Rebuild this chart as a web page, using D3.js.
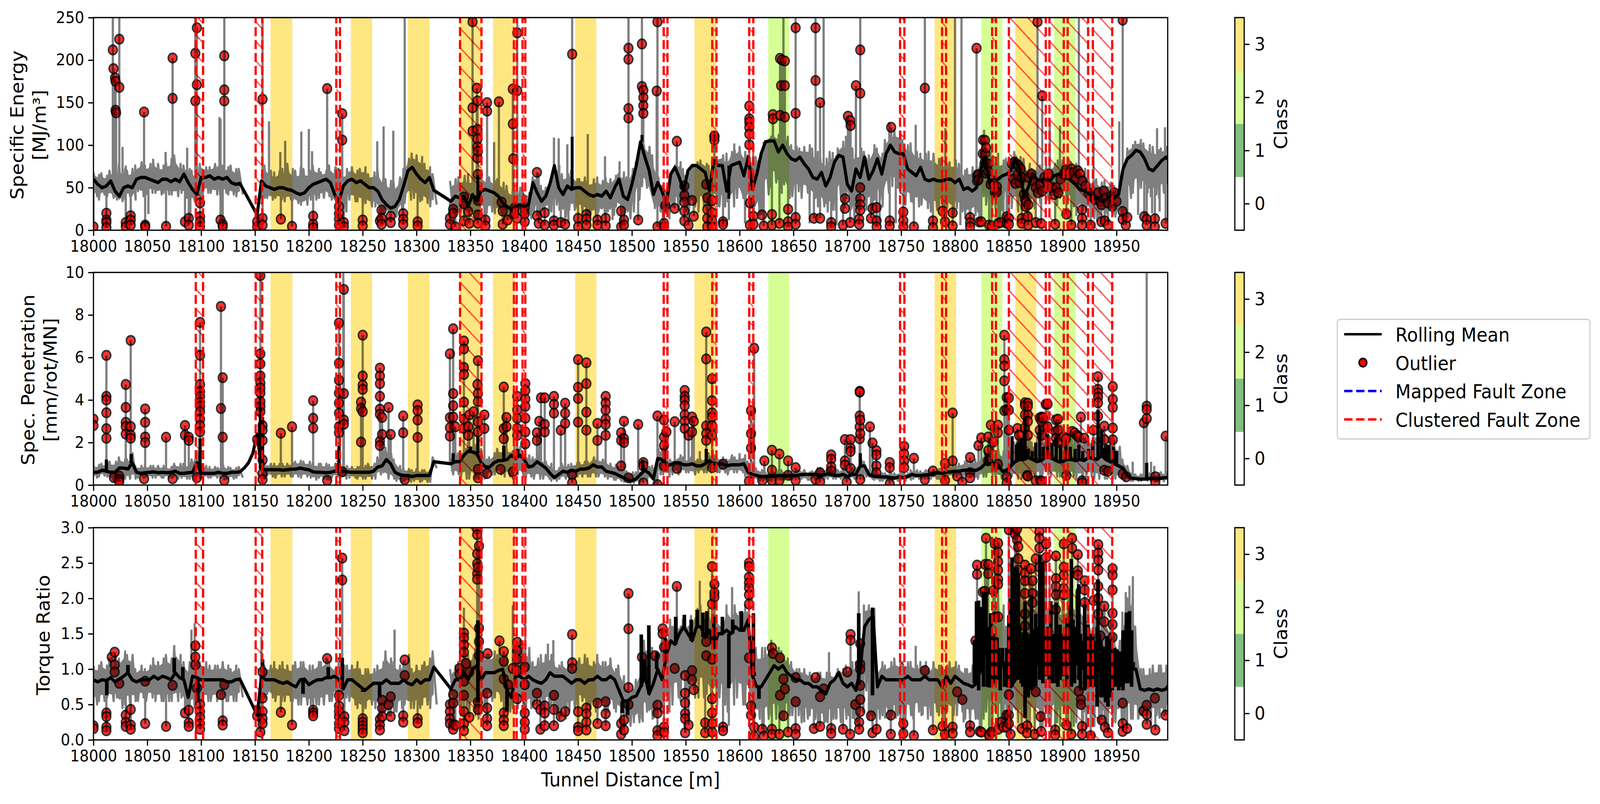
<!DOCTYPE html>
<html><head><meta charset="utf-8">
<script src="https://cdn.jsdelivr.net/npm/d3@7"></script>
<style>html,body{margin:0;padding:0;background:#fff;overflow:hidden}svg{display:block}text{font-family:"DejaVu Sans";fill:#000}</style>
</head><body><svg id="c" xmlns="http://www.w3.org/2000/svg"></svg>
<script>
// readings every 4 m starting at 18000
const energyHi=[68,65,67,64,70,66,78,72,70,72,
76,80,76,78,83,78,76,80,84,88,
78,76,72,70,75,78,74,74,78,74,
76,74,76,72,72,null,null,null,null,66,
76,70,68,70,72,78,72,70,74,72,
70,76,72,68,70,76,74,72,62,72,
74,70,72,74,66,68,72,64,60,58,
56,62,72,84,90,88,86,78,74,66,
null,null,null,58,60,62,64,66,62,60,
66,60,62,58,60,56,52,48,46,50,
48,44,62,66,52,50,62,72,76,66,
66,70,60,60,62,58,60,62,58,62,
60,64,66,68,62,72,80,96,100,98,
88,62,52,54,62,76,80,72,64,70,
80,82,78,76,84,86,88,90,92,94,
98,92,88,90,86,92,104,110,112,112,
114,110,100,98,96,98,100,96,92,84,
84,92,86,96,104,110,96,90,96,92,
88,100,96,90,106,112,118,116,106,100,
102,92,90,90,92,90,84,84,78,80,
82,78,70,72,74,70,92,100,92,86,
80,82,84,80,92,86,84,78,72,74,
76,76,76,78,82,82,84,80,78,72,
72,64,58,60,56,58,56,52,50,70,
96,100,104,106,102,100,98,94,96,98,100];
const energyLo=[40,36,42,40,38,36,34,36,40,36,
46,40,42,44,44,42,44,42,42,40,
44,38,30,34,30,40,44,44,42,42,
44,42,42,40,42,null,null,null,null,38,
38,36,38,36,34,36,36,32,30,30,
36,36,38,38,40,36,32,28,22,36,
34,34,30,32,28,28,24,20,22,20,
16,24,32,36,38,34,36,32,28,30,
null,null,null,22,22,22,24,20,14,14,
22,20,22,20,20,14,14,16,20,18,
14,14,22,22,24,24,22,30,24,16,
24,24,26,22,20,18,16,22,18,22,
18,28,20,28,14,22,36,52,50,42,
26,22,10,14,28,24,34,22,14,28,
22,28,24,18,28,28,28,34,28,38,
38,24,26,10,18,26,42,50,56,44,
54,38,40,46,38,44,42,38,28,28,
22,24,24,40,38,46,14,26,42,24,
30,36,36,28,44,52,50,44,30,34,
32,28,30,26,22,24,26,30,26,18,
26,22,14,14,18,22,40,30,30,26,
24,36,38,26,22,24,34,28,26,32,
40,36,38,30,38,40,42,28,18,24,
24,22,14,16,18,20,18,16,16,24,
38,44,48,50,44,40,42,38,44,42,44];
const energyMean=[60,54,50,52,58,46,40,50,52,50,
60,62,62,60,58,56,60,60,57,60,
57,66,56,48,42,62,62,64,60,62,
60,62,56,54,55,null,null,null,18,58,
52,50,48,50,50,48,47,44,42,44,
50,54,56,58,60,56,42,34,52,58,
60,56,58,54,50,50,46,36,30,26,
28,36,52,70,74,66,60,56,62,47,
null,null,null,34,40,38,40,28,42,34,
46,48,46,44,40,32,28,24,28,30,
28,30,56,44,34,40,55,76,50,42,
52,48,50,50,46,42,40,42,40,46,
38,50,60,40,36,54,76,104,86,70,
42,56,46,30,66,74,62,46,70,76,
76,72,68,46,82,76,76,46,76,78,
80,64,86,48,66,90,104,105,105,92,
100,90,84,82,86,78,72,62,60,68,
52,62,80,88,86,54,46,72,62,86,
60,70,84,66,90,100,92,90,90,72,
68,64,74,60,58,60,58,58,60,60,
56,60,48,50,46,50,72,86,56,62,
60,64,66,70,84,72,40,50,66,60,
58,62,58,64,66,66,62,58,54,48,
46,44,38,38,34,36,40,38,42,72,
84,88,94,92,84,72,70,76,82,86,80];
// outliers: [distance, value, value, ...]
const energyOutliers=[[18000,4],[18012,20,12,9,3],[18018,212],[18018.6,190],[18020,179],[18020.5,175,141],[18021,138],[18024,224.6,168],[18030,9,4],[18034.6,17,12,6],[18047,139],[18048,6,4],[18067.4,4.5],[18073.5,202.5,155],[18085,10],[18088.5,14,6],[18094.6,208,152],[18096,238,171],[18099,32,16,10,4],[18118,12],[18120,7,4],[18121.5,205,165,152],[18152,10,4],[18157,154,14,6],[18174,13],[18184.4,4.5],[18204,16.5,7,3],[18217,166.5],[18228,27.7,19.5,13,6],[18231,137,106],[18232.5,9,4],[18250,12,5],[18266,11],[18267.5,23.6,14,7],[18276,16.4,9],[18287.6,19.5,13,7],[18301,10,5],[18331,14,7],[18334,24.6,20],[18336,4],[18344,39,31,11],[18348,22],[18349,8],[18352,245,144,116.5],[18356,167],[18356.6,152,118.5,107,98,85],[18357,93,65.6,35,18,8],[18364,12,5],[18365.5,150,140],[18376.5,151],[18379,33],[18380,22.5,7],[18384.5,12],[18389.4,166,125],[18389.8,84],[18391,26,19.5],[18393.5,232,164,14],[18400.5,26.6,19.5,10],[18411.8,68],[18412,17],[18413.5,8],
[18419,20.5,6],[18427.6,11,6],[18434,9],[18438,7],[18444.5,207],[18450,14,4],[18457.7,18.5,13,6],[18468,12,6],[18475.6,14,5],[18490,22.5,4],[18492.6,12,6],[18496.8,214,201,143,132],[18505.8,12],[18509.3,219,169],[18510.6,164.5,156,146.6,137.4],[18523,163.7],[18523.7,245,4],[18529.8,8,4],[18531,29],[18539.7,25.6],[18541.7,104.6],[18548.7,52,41,33,22.5,11],[18552.6,6],[18555.8,35],[18557.4,16.4],[18569,54],[18570,38,24.6,14,4],[18574.4,35,20.5,12,4],[18576.6,110.8,110,106],[18584.6,10,7],[18609,146,131,127,121,113,100.5],[18609.6,32,6],[18612.8,16.4,7],[18620.8,18],[18622.4,5],[18630,18.5,6],[18630.8,136],[18631,131],[18637,8],[18637.5,202,135],[18638.5,170],[18639.4,200],[18642,199,170,133],[18645,24.6,10,4],[18652,238,137.4,15,7],[18669,14],[18670.5,238,176],[18674.7,150,14],[18685,9,4],[18696,6],[18697.8,37,25.6],[18700.6,134],[18702.6,129,9],[18703,123],[18708,170],[18711,13,7],[18712,212,161,50,37,30,23.6],[18722,14],[18723.4,25.6],[18727.2,26.7,11,4],[18739.4,11,5],[18740.7,121],[18752,21.5,11,4],[18761.8,4],[18772,167],[18779.5,11,3],[18788.5,22.5],[18790.7,10],[18797.8,20.5,5],[18814,15,9,4],[18820,214],[18820.5,64,58],[18821.8,65.6,59.5],[18822.6,9.6],[18824.4,10],[18825.8,90],[18826,106],[18827.6,79],[18827.9,105.6,90],[18828.8,97],[18829,67],[18830.8,78,69],[18831.7,6],[18833,54],[18834,5],[18835.6,55],[18837,44.6],[18838.8,51,45],[18840,8],[18842,9],[18848,15.8,8],[18850,14,7],
[18853,78],[18854,60],[18855,80],[18856,55],[18857,78],[18858,66],[18859,76],[18860,56],[18861,72],[18862,62,13.8,8],[18864,42],[18865,36],[18865.5,28],[18866,33],[18867.5,16],[18868,62,30,6],[18871,66],[18873,58],[18875,50,9],[18876.6,245],[18877,44],[18879,54],[18880,7.8],[18881,158,46],[18883,62],[18885,58],[18887,66],[18890,50],[18892,42],[18893,7],[18894,50],[18896,44],[18898,60],[18901,66],[18903,71],[18903.4,19],[18905,65],[18908,72,6],[18910,68],[18912,60],[18914,70],[18916,66],[18918,58,24,14,6],[18921,52],[18924,44],[18926,6],[18927,40],[18930,36],[18933,44],[18935,34],[18936,30,10],[18938,46],[18939,11],[18940,38],[18942,32,6],[18945,40],[18946,28],[18948,44],[18950,34],[18955.7,247,22,12.8],[18958.6,6],[18960,15],[18975.7,16],[18978,12.8,6],[18985.6,13.5,4],[18995.6,8]];
// raw spikes without a marker: [distance, value]
const energySpikes=[[18018,255],[18024,255],[18027,98],[18030,76],[18067,92],[18087,97],[18094.6,255],[18117,133],[18118,131],[18121.5,255],[18157,255],[18163,128],[18173.5,92],[18178,105],[18193,116],[18200,119],[18203,93],[18263.5,104.6],[18269.4,122],[18278.4,117],[18289,255],[18352,255],[18372,103.6],[18393.5,255],[18427.6,109],[18432,108],[18440,101],[18444.5,255],[18459,113],[18475,87],[18488.5,81],[18496.8,255],[18509.3,255],[18523.7,255],[18595,102],[18640.7,255],[18652,255],[18670.5,255],[18678,255],[18686.5,92],[18712,255],[18739,127],[18763.5,124],[18772,255],[18791,120],[18800,255],[18806,255],[18827,118],[18840,91],[18876.6,255],[18888,127],[18897.5,123],[18915,255],[18928.6,112],[18952.5,128],[18955.7,255],[18987.6,120],[18995,121],[18051,19],[18090,12],[18363,10],[18441,8],[18482,12],[18590,12],[18605,8],[18665,8],[18690,6],[18730,10],[18745,8],[18805,6],[18845,8],[18880,10],[18932,10],[18956,6],[18970,18],[18983,20],[18990,22]];
const energyMeanSpikes=[[18084,67],[18444.5,110],[18357,65],[18590,37],[18509.3,112]];

const penHi=[.95,.95,1,1.05,1.1,1.1,1.3,1.2,1.2,1.5,
.9,.9,.95,.9,.9,.9,.9,.85,.85,1,
1,1,1,1.2,1.6,1.2,.9,.85,.85,.8,
1,.85,.8,.8,.85,null,null,null,null,1,
1,1,1,1,1,1,1.05,1.1,1.15,1.1,
1.1,1.05,1,1,1,.95,1,1.2,.85,.9,
.85,.85,.85,.9,1,1,1.3,1.6,1.75,1.5,
1.2,.9,.8,.75,.7,.75,.7,.7,.7,1.3,
null,null,null,1.3,1.5,1.5,1.7,2,1.9,1.9,
1.7,1.2,1.3,1.5,1.7,1.7,1.7,1.6,1.8,1.8,
1.5,1.4,1.3,1.4,1.2,1.1,1,.8,.8,1,
.95,1,1.05,1.05,1.1,1.1,1.3,1.3,1.2,1.2,
1,.95,.85,.75,.65,.6,.6,.7,.9,.85,
.9,1.7,1.7,1.2,1.2,1.2,1.4,1.3,1.2,1.3,
1.2,1.2,1.3,1.5,1.4,1.3,1.3,1.2,1.4,1.3,
1.3,1.4,1.1,.9,.8,.7,.6,.6,.6,.7,
.7,.6,.6,.7,.7,.7,.6,.65,.8,.8,
.75,.8,.75,.7,.8,.75,.8,.8,1.2,1.1,
.7,.65,.6,.55,.55,.55,.55,.6,.55,.55,
.7,.7,.65,.7,.7,.7,.75,.8,.85,.9,
.95,1,1.1,1.1,1.1,1.2,1.3,1.6,1.6,1.6,
1.7,1.6,1.6,1.8,2,2.2,2.3,2.2,2,2.2,
2.2,2.4,2.3,2.2,2.2,2.1,2.2,2.2,2.2,2.2,
2.2,2.3,2.2,2.2,2.3,2.2,2.2,2.1,1.8,1.2,
.9,.65,.5,.5,.5,.55,.55,.55,.6,.6,.65];
const penLo=[.35,.4,.45,.4,.2,.2,.2,.3,.3,.3,
.35,.35,.4,.35,.35,.35,.35,.35,.35,.3,
.35,.3,.3,.3,.3,.3,.35,.35,.35,.35,
.3,.3,.3,.35,.35,null,null,null,null,.3,
.45,.4,.35,.4,.4,.4,.4,.4,.35,.4,
.35,.25,.35,.3,.25,.35,.4,.3,.3,.35,
.35,.3,.3,.3,.3,.3,.5,.6,.3,.3,
.2,.15,.2,.15,.2,.15,.2,.15,.15,.8,
null,null,null,.5,.5,.4,.3,.3,.3,.3,
.3,.35,.5,.5,.5,.4,.4,.3,.5,.4,
.3,.4,.3,.3,.3,.3,.2,.2,.3,.3,
.3,.3,.4,.4,.4,.4,.4,.4,.4,.3,
.25,.25,.2,.15,.1,.1,.1,.2,.2,.3,
.1,.5,.5,.4,.5,.5,.6,.6,.6,.5,
.6,.6,.6,.6,.6,.6,.6,.5,.6,.6,
.6,.4,.35,.3,.2,.2,.2,.2,.25,.25,
.25,.25,.3,.3,.3,.25,.25,.25,.3,.25,
.3,.3,.3,.3,.25,.3,.3,.3,.3,.4,
.3,.25,.2,.2,.2,.2,.2,.25,.2,.25,
.3,.3,.3,.3,.3,.3,.3,.35,.35,.4,
.4,.4,.45,.45,.4,.3,.4,.4,.4,.4,
.3,.4,.4,.4,.3,.3,.3,.3,.4,.4,
.5,.5,.4,.4,.4,.3,.4,.4,.3,.3,
.4,.4,.3,.3,.3,.3,.3,.3,.3,.2,
.2,.2,.2,.2,.2,.18,.18,.18,.18,.2,.2];
const penMean=[.6,.6,.7,.65,.6,.6,.8,.8,.75,1.05,
.6,.55,.58,.6,.62,.58,.6,.58,.6,.65,
.55,.55,.58,.6,1.05,.55,.55,.55,.55,.6,
.55,.55,.6,.6,.62,.8,1.05,1.5,2.4,.75,
.72,.72,.72,.72,.7,.72,.75,.75,.8,.75,
.72,.62,.6,.6,.58,.6,.65,.7,.65,.62,
.6,.6,.6,.6,.6,.65,.85,.9,1.2,1,
.6,.5,.45,.45,.4,.45,.45,.45,.45,1.1,
null,null,null,1,1.1,1.1,1.4,1.6,1.55,1.5,
1.05,.85,.85,1.05,1.15,1.15,1.2,1.4,1.25,1.4,
1.2,.85,.9,1.1,.95,.8,.55,.35,.5,.65,
.6,.7,.65,.75,.75,.8,.95,.85,.85,.65,
.6,.55,.45,.35,.25,.2,.3,.5,.7,.55,
.3,1.25,1.2,.95,.95,1.05,1.05,.95,.95,1,
.9,.9,1,1.15,1,1,1,.9,.95,.95,
.95,1,.6,.5,.45,.4,.4,.42,.42,.45,
.45,.42,.45,.45,.48,.5,.5,.5,.5,.45,
.5,.55,.45,.45,.5,.4,.5,.5,.9,.9,
.5,.42,.4,.38,.38,.35,.33,.38,.35,.4,
.5,.45,.45,.48,.48,.55,.58,.55,.6,.62,
.65,.65,.7,.7,.7,.7,.8,1,1,1,
.95,.65,.7,.9,1.1,1.2,1.2,1.3,1.2,1.1,
1.15,1.3,1.3,1.2,1.1,1.1,1.2,1.2,1.15,1.2,
1.15,1.3,1.25,1.2,1.4,1.2,1.1,1,.9,.8,
.45,.32,.3,.28,.28,.3,.32,.3,.33,.35,.38];
const penOutliers=[[18000,3.1,2.8],[18012,6.1,4.17,4,3.4,2.65,2.2],[18019,.35],[18024,.42,.26,.15],[18030,4.73,3.65,2.95,2.75,2.4],[18034.6,6.8,2.75,2.35,2.2],[18047,.3],[18048,3.58,2.95,2.26,2],[18067.4,2.25],[18073.5,.3],[18085,2.8,2.35],[18088.5,2.25,2.1],[18096,.35],[18099,7.65,6.1,4.73,4.4,4.17,3.9,3.7,3.45,3.1,2.8,2.5],[18118.4,8.4,3.6],[18120,5.05,2.25],[18121.5,.22],[18152,2.14],[18155,9.85,6.17,5.7,5.13,4.8,4.57,4.33,3.93,3.7,3.45],[18157,2.8,2.58,2.1,1.18,.54,.26],[18174,2.44],[18184.4,2.74],[18204,3.97,3.14,2.68],[18217,.22],[18228,7.62,5.73,4.93,4.33,3.85,3.38,2.74,2.46],[18231,.62],[18232.5,9.2,4.3,3.06,2.86],[18248.5,3.9,3.6,2.02],[18250,7.05,5.13,4.7,4.5,3.45],[18266,5.5,5.13,4.77,4.17,3.57,3.33,2.06,1.86],[18268,3.18,2.38],[18274,3.65],[18276,2.38],[18287.6,3.25,2.46],[18289,.26],[18301,3.77,3.5,3.06,2.24],[18331,6.17,3.17,2.7,2.3],[18334,7.35,4.3,3.73,3.2],[18336,2.74],[18344,6.77,6.4,5.53,5.2,3.9,3.1,2.66],[18348,2.74,2.34],[18349,3.3],[18353,3.45],[18356.6,4.73],[18357,5.85,4.3,3.93,2.98,2.5,.74,.34],[18363,3.3,2.66],[18365.5,.54],[18378,.74],[18381,4.61,2.66,2.18],[18383.5,3.18,2.74],[18389.4,.62],[18393.5,4.17,3.53,3.14,2.66,2.34],[18401,4.77,4.45,4.05,3.7,3.14,2.5,1.94],[18411.8,2.46,2.1],[18414,3],[18415.6,4.1],
[18419,4.1,2.85,2.5],[18427.6,4.17,3.8,3.38],[18434,2.58],[18438,3.85,3.38,2.9],[18444.5,.5,.1],[18450,5.9,4.6,4.07,2.96],[18457.7,5.75,4.77,3.43,2.58],[18468,2.9,2.1],[18475.6,4.17,3.85,3.53,3.1,2.85,2.34],[18490,2.46,2.1,.9],[18492.6,3,2.18,2],[18496.8,.34],[18505.8,2.85],[18510.6,1.06,.9,.1],[18523.7,3.25,.02],[18529.8,3.06,2.26,1.86,.9],[18532,2.5],[18539.7,2.98],[18541.7,.78],[18549,4.45,4.17,4,3.73,3.3,3,2.66],[18552.6,2.34],[18555.8,3.2,2.5],[18557.4,3],[18569,7.2,5.93,2.78,2.42,2.1],[18574.4,5,3.97,3.4,3.2,2.78,2.34,.82],[18584.6,.98],[18608.7,.18],[18610.6,3.5,2.42,1.74],[18613.5,6.43],[18621,.22],[18623,1.14],[18630,1.64,.7,.22],[18636.9,1.46,.22],[18645,1.14,.46],[18652,.82,.22],[18670.5,.26],[18674.7,.58,.14],[18685,1.42,1.22,.86,.66],[18697.8,2.14,1.14,.94],[18699.4,.14],[18703,2.14,1.74,1.58,.78],[18711.5,4.41,4.37,3.25,2.74,2.18],[18712,3.06,2.42,.26],[18721,2.74],[18723.4,1.98],[18727,1.62,1.42,.9,.58],[18739.4,1.06,.82,.06],[18752.8,1.82,1.46,1.14,.82],[18761.8,1.26],[18772,.26],[18779.5,.66],[18790.7,1.02,.22],[18797.8,3.39,1.14],[18802,.42],[18806.8,.14],[18814,1.3,.58,.34],[18821.8,1.86],[18824.4,2.22],[18830.8,2.26,1.62,1.14],[18833.3,2.82],[18835.6,2.02],[18839.8,2.82,2.46,.98],[18845.8,7.05,5.9,5.6,4.9,3.5],[18848,4.12,3.55,.39,.1],[18850,4.1,3.53,2.58],
[18858,2.66],[18859.5,2.34],[18861,1.86],[18865,3.87,3.74,3.3,2.7],[18867,.45],[18867.6,3.85,3.7,3.3,3,2.34,.42],[18875,.2],[18878.7,3.16,2.58],[18879.3,.2],[18880.4,3.2,3,2.34,.18],[18881.6,3.16],[18884.3,3.8],[18886,3.81,2.74],[18893.7,3.07,2.52,2.2],[18895.5,3.1,2.58,2],[18901,2.26],[18903,2.18],[18903.4,.45],[18908.7,2.52],[18911,2.46],[18913.4,2.33],[18915,2.26],[18916.9,3.2],[18918,.2,.1],[18919.8,2.2],[18928.6,2.58],[18932.8,5.1,4.5,4.33,4.13,3.87,3.23],[18938.6,2.77,2.13,.7],[18942,.65],[18946.5,4.63,4.03,3.65,2.68,2.13],[18955.7,.52],[18959,.39],[18975.4,2.93],[18978,3.71,3.55,3.13],[18986,.39,.13],[18995.6,2.3]];
const penSpikes=[[18232,10.5],[18978,10.5],[18155,10.5],[18600,1.5],[18563,1.6],[18575,1.7],[18965,1.1],[18985,.9],[18982,1.1]];
const penMeanSpikes=[[18035,1.46],[18012,1.2],[18099,2.2],[18155,4.1],[18157,3.2],[18228,1.85],[18334,1.5],[18350,1.8],[18357,2.25],[18381,1.85],[18394,1.7],[18530,1.7],[18510,1.2],[18569,1.7],[18712,1.5],[18978,1.05],[18829.4,1.5],[18853,2.3],[18857,1.9],[18859,2],[18862,2.2],[18865,3.2],[18868,1.7],[18871.6,1.6],[18875,2],[18878.7,2.8],[18882,1.8],[18886,2.4],[18890,2],[18894,2.3],[18898,1.9],[18903,2.1],[18907,1.8],[18911.6,1.7],[18915,1.9],[18918.6,1.6],[18924,1.7],[18928,2.1],[18932.8,3.55],[18936,2.6],[18937.5,1.75],[18940,1.9],[18943,1.9],[18947,1.8],[18950,1.6]];

const torqueHi=[1.05,1.05,1.1,1.05,1.15,1.1,1.15,1.25,1.2,1.2,
1,1.05,1,1.05,1.15,1.1,1.15,1.2,1.15,1.3,
1.2,1.1,1.1,1.1,1.1,1.1,1.1,1.05,1.05,1.05,
1.1,1.05,1,1.05,1,null,null,null,null,1.05,
1.05,1.05,1.1,1.05,1.1,1.05,1.05,1.1,1.1,1.1,
1.05,1.05,1.1,1.1,1.15,1.1,1,1.15,1.05,1.05,
1.05,1.1,1,1,1,1,1.05,1.1,1.25,1.15,
1.1,1.05,1.1,1.2,1,1.05,1.05,1.1,1.15,1.25,
null,null,null,1,1.05,1.1,1.4,1.2,1.2,1.6,
1.4,1.2,1.2,1.25,1.2,1.2,1.2,1.1,1.3,1.4,
1.3,1.3,1.1,1.15,1.2,1.2,1.2,1.1,1.05,1.1,
1.05,1.05,1.1,1.15,1.2,1.15,1.1,1.2,1.1,1.1,
1.15,1,1.05,.9,.7,.7,.85,1,1.4,1.5,
1.3,1.2,1.5,1.4,1.7,1.7,1.6,1.7,1.6,1.75,
1.85,1.9,1.8,1.85,1.6,1.7,1.6,1.9,1.8,1.9,
1.8,1.9,1.8,1.3,1.3,1.3,1.3,1.4,1.3,1.3,
1.25,1.15,1.1,1,1,1,.95,.9,.95,.95,
.95,.95,.9,1,1,1.05,1.1,1.1,1.1,1.9,
1.9,1.85,1,1.1,1.05,1.1,1.15,1.1,1.1,1.1,
1.1,1.05,1.1,1.1,1,1.1,1.05,1.05,1.05,1.1,
1.1,1.05,1,1,1.05,1.05,1.1,1.3,1.5,1.8,
2,1.9,1.6,1.5,1.9,2.2,2.3,2.3,2.2,2.1,
2,2.1,2.2,2.2,2.1,2,2.1,2.2,2.1,2.1,
2,1.9,1.7,1.7,1.8,1.9,1.7,1.5,1.4,1.8,
2,2.3,1.6,1,1,1,1.05,1.05,1.05,1.05,1.15];
const torqueLo=[.5,.55,.55,.6,.55,.6,.45,.5,.5,.55,
.55,.6,.55,.6,.55,.55,.55,.55,.55,.55,
.6,.5,.5,.45,.5,.55,.55,.55,.55,.6,
.55,.55,.55,.55,.6,null,null,null,null,.6,
.65,.6,.55,.55,.55,.55,.55,.5,.5,.5,
.5,.5,.5,.5,.55,.55,.6,.6,.6,.55,
.5,.45,.4,.45,.5,.45,.45,.4,.35,.4,
.4,.45,.5,.45,.45,.45,.5,.5,.45,.5,
null,null,null,.6,.5,.35,.45,.4,.35,.3,
.45,.55,.55,.6,.55,.4,.4,.45,.45,.5,
.4,.45,.5,.5,.5,.5,.5,.4,.3,.3,
.4,.45,.5,.55,.5,.45,.4,.5,.4,.4,
.45,.4,.4,.35,.2,.25,.25,.3,.4,.3,
.35,.4,.4,.4,.5,.6,.55,.7,.5,.6,
.6,.6,.65,.45,.5,.6,.5,.4,.5,.6,
.5,.5,.4,.3,.3,.35,.3,.35,.3,.3,
.3,.35,.35,.35,.25,.3,.35,.3,.25,.25,
.25,.3,.3,.25,.3,.35,.3,.25,.4,.7,
.4,.35,.3,.35,.3,.35,.35,.3,.3,.35,
.3,.4,.35,.3,.35,.4,.35,.35,.4,.35,
.35,.4,.3,.3,.3,.3,.3,.4,.3,.4,
.3,.3,.35,.4,.25,.2,.2,.25,.25,.2,
.2,.25,.2,.25,.2,.25,.2,.2,.25,.2,
.15,.2,.2,.25,.2,.2,.25,.25,.25,.3,
.3,.3,.3,.35,.35,.35,.35,.35,.35,.4,.4];
const torqueMean=[.85,.82,.85,.84,.88,.82,.86,.9,.95,.85,
.82,.85,.85,.85,.9,.86,.9,.88,.85,.95,
.88,.85,.6,.9,.88,.85,.85,.85,.85,.85,
.85,.82,.82,.85,.86,null,null,null,.35,.9,
.85,.85,.85,.82,.8,.82,.78,.75,.85,.86,
.78,.82,.85,.85,.88,.88,.9,.85,.72,.85,
.85,.8,.75,.7,.75,.8,.8,.8,.85,.8,
.8,.8,.85,.8,.78,.85,.8,.85,.85,1.03,
null,null,null,.72,.85,.85,.95,.85,1,1.05,
.85,.95,.95,.95,.98,1,.7,.6,.9,.9,
.85,.9,.85,.82,.8,.85,.95,.9,.9,.9,
.85,.8,.85,.85,.8,.85,.85,.9,.85,.85,
.9,.85,.7,.55,.55,.6,.62,.75,.9,.65,
.8,1,.85,1.2,1.4,1.35,1.5,1.6,1.5,1.4,
1.6,1.6,1.45,1.55,1.3,1.5,1.5,1.55,1.5,1.6,
1.55,1.55,1.7,.9,.75,.75,.85,.95,1.05,1,
1.05,.95,.9,.85,.85,.8,.8,.75,.75,.7,
.65,.8,.85,.95,.8,.75,.8,.7,1,1.6,
1.7,1.75,.75,.9,.85,.85,.85,.85,.85,.9,
.85,.85,.85,.9,.85,.85,.85,.75,.9,.8,
.9,.85,.8,.78,.75,.8,1,1.3,1.1,1.2,
1,1.15,.8,.75,.85,1,1.2,1.1,1,1.1,
1,1.05,1.1,1.15,1,1.1,1.05,1.1,1.1,1.05,
1,1.05,.9,1.1,.95,1,.9,1,.9,1,
1.1,1,1,.72,.7,.72,.7,.72,.7,.72,.82];
const torqueOutliers=[[18000,.2,.16],[18012,.38,.33,.18,.13],[18017,1.17],[18019.7,1.24,1.06,.96],[18024,.8],[18030,.35,.25,.19],[18034.6,.43,.21,.15],[18048,.83,.23],[18067.4,.19],[18073.5,.77],[18085,.38],[18088.5,.42,.24,.19],[18094.6,1.33,1.17,1.06],[18096,.73],[18099,.5,.4,.32,.23,.15],[18118.4,.64],[18120,.27,.21],[18121.5,.78],[18152,.34],[18155,.11],[18157,.96,.59,.4,.3,.23],[18174,.39],[18184.4,.21],[18204,.42,.38,.34],[18217,1.15],[18228,.63,.48,.4,.33,.23,.16],[18231,2.57,2.26],[18233,.33,.25,.13],[18250,.3,.25,.2,.15,.1],[18266,.29,.21,.14],[18268,.56,.45,.33],[18274,.5],[18276,.61,.33],[18287.6,.34,.25],[18289,1.13,.91],[18301,.3,.24],[18331,.5,.4,.3,.23],[18334,.64,.52,.21,.15],[18336,.21],[18340,1.01,.93],[18344,1.51,1.44,1.34,1.24,.83,.63,.4,.23,.13],[18346,1.08],[18349,.96,.32],[18356.3,2.98,2.9,2.63,2.49,2.35,2.27],[18357,2.44,.53,.43],[18358,2.74,1.58,1.39,1.19],[18365.5,.66,.45,.3,.2],[18366,1.22],[18377,1.4],[18381,1.25,1.11,.86,.38,.28,.2],[18385,.78],[18389.4,1.01],[18393.5,1.38,1.26,1.14,.98,.58],[18400.5,1.03,.78,.38,.25,.15],[18411.8,.66,.5],[18415,.43,.15],
[18419,.48,.38,.2],[18427.6,.63,.43,.2],[18434,.33],[18438,.4],[18444.5,1.49,1.09,1.01],[18450,.4,.18,.13],[18457.7,.45,.37,.25,.14],[18468,.52,.23],[18475.6,.54,.37,.2],[18490,.23,.08],[18492.6,.28,.14],[18496.8,2.07,1.57,.74,.5],[18509.3,1.17],[18512.5,.96],[18521.5,1.19],[18523.7,.49,.38,.13,.06],[18528.5,1.57,1.5],[18529.8,1.31,.18,.11],[18539.7,1.01],[18541.7,2.17],[18549.4,.91,.66,.52,.37,.3,.1],[18552.6,.21],[18555.8,.98,.85],[18557.4,.71],[18568,.24,.1],[18569,1.39,1.19],[18574.4,2.45,1.92,1.14,.58,.38,.23,.11],[18576.6,2.2,2.08,2.02],[18584.6,.18,.13],[18608.7,2.5,2.45,2.3,2.22,2.15,2.05,1.92,1.16],[18610.6,.48,.35],[18613.5,.18,.05],[18621,.15],[18622.4,.05],[18630,1.3,.15,.08],[18631,1.22],[18636.9,.08],[18637.5,1.16,.63],[18640.7,.86,.34],[18642,.72],[18645,.11],[18652,.88,.54,.16,.08],[18669,.16],[18670.5,.88],[18674.7,.61,.19],[18678,.72],[18685,.16,.09],[18696,.15],[18700,.96],[18702.6,.08],[18703,1.49,1.41],[18707.4,.5],[18711,.25,.15],[18712,1.36,1.07,1,.77,.57,.4],[18722,.34],[18723.4,.1],[18727.2,.15],[18740.4,.35,.08],[18752,.23,.09],[18761.8,.06],[18772,.98],[18779.5,.14],[18788.5,.19],[18790.7,.08],[18797.8,.18,.09],[18802,.68],[18806.8,.57],[18814,.2,.11],[18819,1.4],[18820.5,2.47,2.34],[18823,.12],[18824.4,.11],[18825.8,2.09],[18827.6,2.1],[18828,2.48],[18828.8,2.85],[18830.8,2.48,2.35],[18831.7,.08,.06],[18834,.11],[18835.6,2.11],[18837,2.77],[18837.6,1.74],[18840,2.78,2.65,2.52,2.4,2.27,2.2,1.74,.15],[18843,.25],[18845,.18],[18848,.35,.18],[18850,2.97,.81,.64,.35,.23],[18851.6,.08],[18855.8,2.97,2.91],[18857.6,2.98,2.83],[18858.7,2.73,2.56,2.4],[18862,.16],[18865,2.47,2.36,2.25,2.07,1.78,1.61,1.46],[18867,.2,.1],[18870.5,2.42],[18872,2.25,2.07,1.94],[18874,.08],[18875,2.56,.68],[18878.4,2.95,2.85,2.71,2.44],[18879.6,.33],[18880,.12],[18884.6,2.77,2.58],[18893,.14,.07],[18893.7,2.6,2.28,2.17,2.05,1.84],[18901,2.77,2.44,2.33,2.14,2.05],[18903.4,.21],[18908,.08],[18908.7,2.85,2.71],[18914,2.62,2.39,2.33],[18915,.69],[18916.9,.57,.5],[18918,.19,.08],[18920.4,2.25,2.12,1.94],[18926,.06],[18928.6,1.97],[18933,2.76,2.64,2.54,2.4,2.17,2,1.78],[18935,1.47],[18936.3,.28],[18938.6,1.89,1.67],[18939.2,.18],[18942,.1],[18946.3,2.42,2.33,2.12,1.79,1.63,1.45],[18955.7,.52,.23,.12],[18959.8,.16],[18975,.41],[18978,.49,.36,.22],[18985.6,.59],[18986,.14],[18995.6,.35]];
const torqueSpikes=[[18091,1.56],[18094,1.65],[18075,1.34],[18156,1.46],[18279.6,1.56],[18344,1.87],[18389.4,1.9],[18401,2.03],[18422,1.36],[18427,1.41],[18563,2.25],[18593,2.16],[18683,1.24],[18710.6,2.1],[18763.5,1.33],[18958.6,2.09],[18962,2.18],[18690,.3],[18705,.3],[18720,.28],[18745,.3],[18770,.35],[18808,.25],[18510,.25],[18520,.3],[18590,.2],[18660,.25],[18680,.25],[18735,.3],[18970,.3],[18982,.2],[18990,.3]];
const torqueMeanSpikes=[[18012.4,.63],[18032,1.06],[18075,1.16],[18083,1.03],[18097,.53],[18157,1.14],[18194.6,.65],[18218,1.03],[18231,1.16],[18250,.68],[18265.7,.6],[18357,1.69,.53],[18384,.4,.63],[18491,.38],[18496,.35],[18508.7,1.49],[18512,1.14],[18515.7,1.62],[18523,1.24],[18531,1.44],[18540.7,1.74],[18548.7,1.77],[18552,1.5],[18555,1.7],[18560.6,1.84],[18566,1.8],[18569.6,1.82],[18576,1.74],[18584,1.74],[18590,.73],[18593.6,1.7],[18601.6,1.82],[18612.8,1.79],[18613.5,.96],[18618,.58],[18710.6,1.79,.78],[18723.4,1.87,.63],[18818,1.41],
[18820,1.96],[18822,1.97,.7],[18824.6,1.88],[18826.4,2.1,.75],[18828.8,2.09],[18830,1.5,.75],[18831.7,1.6,.74],[18833,1.79],[18834.5,1.4,.8],[18836,1.5],[18837.5,1.3,.8],[18839,1.45],[18840.5,1.3,.85],[18842,1.2,.7],[18844,1.3],[18846,1.1,.75],[18848,1.3,.75],[18850,1.76,.85],[18851.5,2],[18853,2.58,.9],[18854,1.9],[18855,2.44,.85],[18856.5,1.8],[18857.6,2.44],[18858.7,2.35],[18860,1.6,.85],[18861.5,1.5,.8],[18863,1.5,.75],[18865,1.96,.31],[18866.5,1.5,.7],[18868,1.45,.6],[18869.5,1.4],[18871,2.05,.7],[18872.5,1.5,.75],[18874,1.55],[18875,1.78,.76],[18876.5,1.6],[18878.7,2.62,.85],[18880,1.9],[18881.6,2.52,.8],[18883,1.5],[18884.5,1.5,.9],[18886,1.6],[18887.5,1.5,.85],[18889,1.96],[18890.5,1.5,.8],[18892,1.5],[18894,1.94,.8],[18895.5,1.5,.75],[18897.5,1.63,.85],[18899,1.4],[18900.5,1.5,.9],[18902,1.5],[18904,1.72,.75],[18905.5,1.6],[18907,1.9],[18908,2.56,.75],[18909.5,1.7],[18911,1.6,.8],[18912.5,1.6],[18914,2.14],[18915,2.2,.85],[18916.5,1.5,.7],[18918,1.4],[18920.4,1.92,.7],[18921.5,1.3],[18923.4,1.63,.75],[18925,1.5],[18926.5,1.3,.75],[18928,1.5],[18930,1.4,.75],[18932,1.6,.47],[18932.8,2.27],[18934,1.5],[18935.5,1.4,.6],[18937.5,1.32,.6],[18939.8,1.3,.53],[18941,1.47],[18942,1.3,.47],[18944,1.43,.6],[18946,1.3,.7],[18948,1.3,.75],[18950.4,1.28,.75],[18952,1.25,.7],[18954,1.25,.75],[18956,1.55,.7],[18958,1.4],[18959,1.8,.8],[18960.5,1.3],[18962,1.82,.8],[18964,1.55,.75],[18965.5,1.1]];

const classBands=[[18164.4,18184.7,3],[18239,18258.7,3],[18291.8,18312,3],[18340,18359.6,3],[18371,18391,3],[18447.3,18467,3],[18558,18578,3],[18626.5,18646,2],[18781,18801,3],[18824.3,18844,2],[18856,18875.5,3],[18892,18912,2]];
const faultZones=[[18095,18101.8],[18150.6,18156.7],[18225.5,18228.9],[18340.4,18360.3],[18390.4,18393],[18398.4,18401],[18529.5,18533],[18574.6,18578.5],[18608.9,18612.7],[18749,18753],[18788,18791.7],[18834.5,18838],[18850,18884.3],[18887.7,18901],[18904.6,18923.6],[18928,18946]];
const classColors=["#ffffff","#80c080","#d5ff95","#fee681"];
const classTicks=[0,1,2,3];
const xTicks=d3.range(18000,19000,50);
const legendLabels=["Rolling Mean","Outlier","Mapped Fault Zone","Clustered Fault Zone"];
const sampleShift=[0,1.2,-.7,.6,-1.1,.9,-.4,1.4,-.9,.3,-1.3,.7,-.2,1,-.6];

const W=4434,H=2057,L=259,R=3236,CBL=3422,CBR=3448,LW=3.3;
const panels=[
 {top:45,bot:589,max:250,ticks:d3.range(0,251,50),fmt:d3.format("d"),label:["Specific Energy","[MJ/m³]"],lx:[48,110],hi:energyHi,lo:energyLo,mean:energyMean,out:energyOutliers,sp:energySpikes,ms:energyMeanSpikes,msw:8},
 {top:697,bot:1241,max:10,ticks:d3.range(0,11,2),fmt:d3.format("d"),label:["Spec. Penetration","[mm/rot/MN]"],lx:[78,140],hi:penHi,lo:penLo,mean:penMean,out:penOutliers,sp:penSpikes,ms:penMeanSpikes,msw:9},
 {top:1350,bot:1893,max:3,ticks:d3.range(0,3.01,.5),fmt:d3.format(".1f"),label:["Torque Ratio"],lx:[120],hi:torqueHi,lo:torqueLo,mean:torqueMean,out:torqueOutliers,sp:torqueSpikes,ms:torqueMeanSpikes,msw:10}
];
const svg=d3.select("#c").attr("width",window.innerWidth).attr("height",window.innerHeight)
  .attr("viewBox",`0 0 ${W} ${H}`).attr("preserveAspectRatio","none");
const defs=svg.append("defs");
const pat=defs.append("pattern").attr("id","hatch").attr("patternUnits","userSpaceOnUse").attr("width",50).attr("height",50);
[[3,0,53,50],[-47,0,3,50],[-97,-50,53,100]].forEach(s=>pat.append("line").attr("x1",s[0]).attr("y1",s[1]).attr("x2",s[2]).attr("y2",s[3]).attr("stroke","#f00").attr("stroke-opacity",.65).attr("stroke-width",3.6));
const x=d3.scaleLinear().domain([18000,18997.5]).range([L,R]);
const station=i=>18000+4*i;

panels.forEach((p,k)=>{
 const y=d3.scaleLinear().domain([0,p.max]).range([p.bot,p.top]);
 defs.append("clipPath").attr("id","clip"+k).append("rect").attr("x",L).attr("y",p.top).attr("width",R-L).attr("height",p.bot-p.top);
 const g=svg.append("g");
 const plot=g.append("g").attr("clip-path",`url(#clip${k})`);
 plot.selectAll("rect.band").data(classBands).join("rect").attr("class","band")
  .attr("x",d=>x(d[0])).attr("width",d=>x(d[1])-x(d[0])).attr("y",p.top).attr("height",p.bot-p.top).attr("fill",d=>classColors[d[2]]);
 plot.selectAll("rect.zone").data(faultZones).join("rect").attr("class","zone")
  .attr("x",d=>x(d[0])).attr("width",d=>x(d[1])-x(d[0])).attr("y",p.top).attr("height",p.bot-p.top).attr("fill","url(#hatch)");
 const pts=p.out.flatMap(r=>r.slice(1).map(v=>[r[0],v]));
 plot.selectAll("circle").data(pts).join("circle").attr("cx",d=>x(d[0])).attr("cy",d=>y(d[1])).attr("r",12)
  .attr("fill","#f00").attr("stroke","#000").attr("stroke-width",4.2).attr("opacity",.8);
 const meanAt=v=>{let i=Math.round((v-18000)/4);i=Math.max(0,Math.min(p.mean.length-1,i));
  for(let d=0;d<20;d++){if(p.mean[i-d]!=null)return p.mean[i-d];if(p.mean[i+d]!=null)return p.mean[i+d];}return 0;};
 const idx=d3.range(p.hi.length);
 const raw=plot.append("g").attr("opacity",.5);
 const core=d3.area().defined(i=>p.hi[i]!=null&&p.mean[i]!=null).x(i=>x(station(i)))
   .y0(i=>y(p.mean[i]-(p.mean[i]-p.lo[i])*.72)).y1(i=>y(p.mean[i]+(p.hi[i]-p.mean[i])*.72));
 raw.append("path").attr("d",core(idx)).attr("fill","#000");
 const zig=idx.flatMap(i=>[{x:station(i)+sampleShift[i%15],v:p.hi[i]},{x:station(i)+2+sampleShift[(i+7)%15],v:p.lo[i]}]);
 raw.append("path").attr("d",d3.line().defined(d=>d.v!=null).x(d=>x(d.x)).y(d=>y(d.v))(zig))
  .attr("fill","none").attr("stroke","#000").attr("stroke-width",6).attr("stroke-linejoin","round");
 const stemD=(rows)=>rows.flatMap(r=>r.slice(1).map(v=>`M${x(r[0])},${y(meanAt(r[0]))}L${x(r[0])},${y(v)}`)).join("");
 raw.append("path").attr("d",stemD(p.out.concat(p.sp))).attr("fill","none").attr("stroke","#000").attr("stroke-width",6.2);
 const meanPts=idx.filter(i=>p.mean[i]!=null);
 plot.append("path").attr("d",d3.line().x(i=>x(station(i))).y(i=>y(p.mean[i]))(meanPts))
  .attr("fill","none").attr("stroke","#000").attr("stroke-width",8.5).attr("stroke-linejoin","round");
 plot.append("path").attr("d",stemD(p.ms)).attr("fill","none").attr("stroke","#000").attr("stroke-width",p.msw);
 const fz=faultZones.flat();
 plot.selectAll("line.fz").data(fz).join("line").attr("class","fz")
  .attr("x1",d=>x(d)).attr("x2",d=>x(d)).attr("y1",p.bot).attr("y2",p.top)
  .attr("stroke","#f00").attr("stroke-width",6.25).attr("stroke-dasharray","23.1 10");
 g.append("rect").attr("x",L).attr("y",p.top).attr("width",R-L).attr("height",p.bot-p.top).attr("fill","none").attr("stroke","#000").attr("stroke-width",LW);
 const ax=d3.axisBottom(x).tickValues(xTicks).tickFormat(d3.format("d")).tickSize(14.6).tickPadding(11);
 const ay=d3.axisLeft(y).tickValues(p.ticks).tickFormat(p.fmt).tickSize(14.6).tickPadding(11);
 const gx=g.append("g").attr("transform",`translate(0,${p.bot})`).call(ax);
 const gy=g.append("g").attr("transform",`translate(${L},0)`).call(ay);
 [gx,gy].forEach(a=>{a.select(".domain").remove();a.selectAll("line").attr("stroke-width",LW).attr("stroke","#000");a.selectAll("text").attr("font-size",41).attr("font-family","DejaVu Sans").attr("fill","#000");});
 const cy=(p.top+p.bot)/2;
 p.label.forEach((t,j)=>g.append("text").text(t).attr("font-size",49.5).attr("text-anchor","middle").attr("dominant-baseline","central")
   .attr("transform",`translate(${p.lx[j]},${cy+3}) rotate(-90)`));
 // colour bar
 const cb=d3.scaleLinear().domain([-.5,3.5]).range([p.bot,p.top]);
 const cg=svg.append("g");
 cg.selectAll("rect").data(classTicks).join("rect").attr("x",CBL).attr("width",CBR-CBL).attr("y",d=>cb(d+.5)).attr("height",d=>cb(d-.5)-cb(d+.5)).attr("fill",d=>classColors[d]);
 cg.append("rect").attr("x",CBL).attr("y",p.top).attr("width",CBR-CBL).attr("height",p.bot-p.top).attr("fill","none").attr("stroke","#000").attr("stroke-width",LW);
 const gc=cg.append("g").attr("transform",`translate(${CBR},0)`).call(d3.axisRight(cb).tickValues(classTicks).tickFormat(d3.format("d")).tickSize(14.6).tickPadding(14));
 gc.select(".domain").remove();gc.selectAll("line").attr("stroke-width",LW).attr("stroke","#000");gc.selectAll("text").attr("font-size",47).attr("font-family","DejaVu Sans").attr("fill","#000");
 cg.append("text").text("Class").attr("font-size",49.5).attr("text-anchor","middle").attr("dominant-baseline","central").attr("transform",`translate(3550,${cy}) rotate(-90)`);
});
svg.append("text").text("Tunnel Distance [m]").attr("x",(L+R)/2).attr("y",2012).attr("font-size",49.5).attr("text-anchor","middle");
// legend
const lg=svg.append("g");
lg.append("rect").attr("x",3706).attr("y",817).attr("width",700).attr("height",306).attr("rx",8).attr("fill","#fff").attr("stroke","#d0d0d0").attr("stroke-width",3.3);
const rowY=d3.scalePoint().domain(legendLabels).range([855,1073]);
legendLabels.forEach((t,i)=>{
 const yy=rowY(t);
 lg.append("text").text(t).attr("x",3867).attr("y",yy+2).attr("font-size",49.5).attr("dominant-baseline","central");
 if(i==1)lg.append("circle").attr("cx",3777).attr("cy",yy).attr("r",10.6).attr("fill","#f00").attr("stroke","#000").attr("stroke-width",4.2);
 else{const l=lg.append("line").attr("x1",3725).attr("x2",3829).attr("y1",yy).attr("y2",yy).attr("stroke",i==0?"#000":i==2?"#00f":"#f00").attr("stroke-width",6.25);
  if(i>0)l.attr("stroke-dasharray","23.1 10");}
});
</script></body></html>
